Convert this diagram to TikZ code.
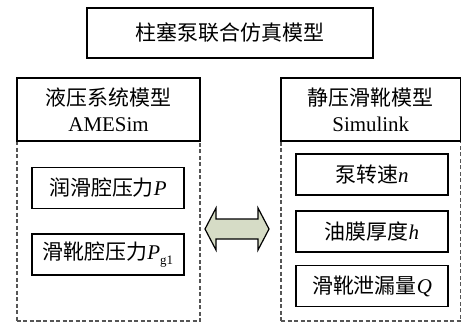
\documentclass[tikz,border=0pt]{standalone}
\usepackage{fontspec}
\setmainfont{Liberation Serif}
\newfontfamily\cjk{Noto Sans CJK SC}
\usetikzlibrary{calc,positioning}
\definecolor{arrowfill}{RGB}{214,220,198}
\definecolor{dashgray}{RGB}{85,85,85}
\begin{document}
\begin{tikzpicture}[x=1bp,y=-1bp]
\tikzstyle{every node}=[font=\fontsize{21}{26}\selectfont, align=center,
                        inner sep=0pt]
\tikzstyle{box}=[draw, line width=1.2bp, fill=white]
\tikzstyle{group}=[draw=dashgray, line width=1.2bp, dash pattern=on 4bp off 2.5bp,
                   minimum width=183bp, minimum height=180bp]
\useasboundingbox (0,0) rectangle (461,323);
% dashed groups
\node[group] (lgroup) at (108.5,231) {};
\node[group, minimum width=179.5bp] (rgroup) at (370.75,231) {};
% title and headers
\node[box, minimum width=286bp, minimum height=50bp] (top) at (230,33) {\cjk 柱塞泵联合仿真模型};
\node[box, minimum width=183bp, minimum height=63bp] (lhead) at (108.5,109.5) {{\cjk 液压系统模型}\\AMESim};
\node[box, minimum width=179.5bp, minimum height=63bp] (rhead) at (370.75,109.5) {{\cjk 静压滑靴模型}\\Simulink};
% variables
\tikzstyle{var}=[box, minimum width=152bp, minimum height=41bp]
\node[var] (p) at (108,188) {{\cjk 润滑腔压力}\textit{P}};
\node[var] (pg) at (108,254.5) {{\cjk 滑靴腔压力}\textit{P}\raisebox{-0.45ex}{\fontsize{13}{13}\selectfont g1}};
\node[var] (n) at (372,174.5) {{\cjk 泵转速}\textit{n}};
\node[var] (h) at (372,231.5) {{\cjk 油膜厚度}\textit{h}};
\node[var] (q) at (372,286) {{\cjk 滑靴泄漏量}\textit{Q}};
% exchange arrow
\draw[line width=1.2bp, fill=arrowfill, line join=miter]
  (205,229) -- (216,208) -- (216,219) -- (258,219) -- (258,208) -- (269,229)
  -- (258,250) -- (258,239) -- (216,239) -- (216,250) -- cycle;
\end{tikzpicture}
\end{document}
